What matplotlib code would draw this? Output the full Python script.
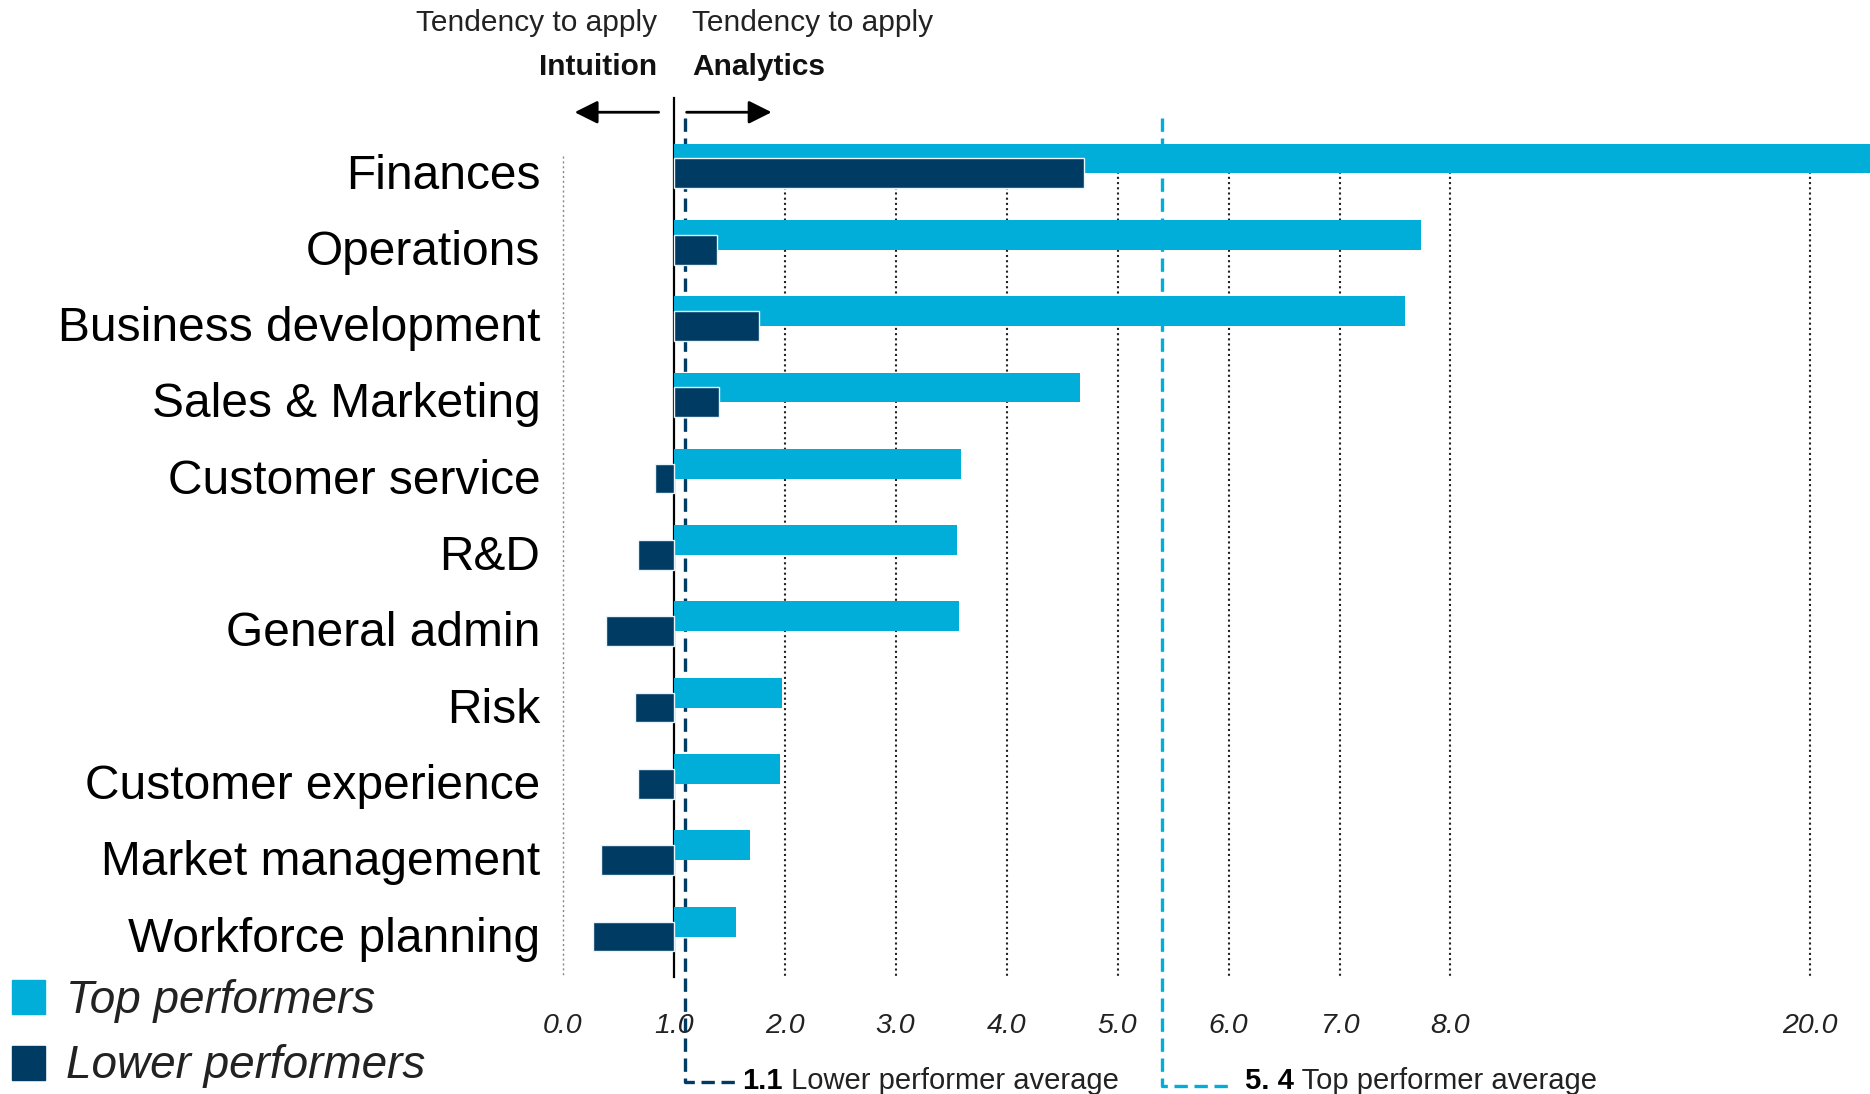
import numpy as np
import matplotlib
matplotlib.use("Agg")
import matplotlib.pyplot as plt
from matplotlib.patches import Rectangle

plt.rcParams['font.family'] = ['Liberation Sans', 'DejaVu Sans']

# ---------------- data ----------------
categories = ["Finances", "Operations", "Business development", "Sales & Marketing",
              "Customer service", "R&D", "General admin", "Risk",
              "Customer experience", "Market management", "Workforce planning"]
top_performers = [23.0, 7.73, 7.59, 4.66, 3.59, 3.55, 3.57, 1.98, 1.96, 1.69, 1.56]
lower_performers = [4.70, 1.39, 1.77, 1.41, 0.83, 0.68, 0.39, 0.65, 0.68, 0.35, 0.27]
tick_values = [0.0, 1.0, 2.0, 3.0, 4.0, 5.0, 6.0, 7.0, 8.0, 20.0]
tick_labels = ["0.0", "1.0", "2.0", "3.0", "4.0", "5.0", "6.0", "7.0", "8.0", "20.0"]
baseline = 1.0
lower_avg = 1.1
top_avg = 5.4
series_names = ["Top performers", "Lower performers"]

CYAN = "#00AED9"
NAVY = "#003B64"

# broken x scale: linear up to 8, compressed above
BREAK, FACTOR = 8.0, 0.27
def fwd(v):
    v = np.asarray(v, dtype=float)
    return np.where(v <= BREAK, v, BREAK + (v - BREAK) * FACTOR)
def inv(t):
    t = np.asarray(t, dtype=float)
    return np.where(t <= BREAK, t, BREAK + (t - BREAK) / FACTOR)

fig = plt.figure(figsize=(18.7, 10.94), dpi=100)
ax = fig.add_axes([546 / 1870, 0.10695, 1 - 546 / 1870, 0.8065])
ax.set_xscale('function', functions=(fwd, inv))
ax.set_xlim(-0.15, 22.0)
ax.set_ylim(10.56, -1.0)

rows = np.arange(len(categories))

# grid lines (dotted)
for v in tick_values:
    if v == baseline:
        continue
    if v == 0.0:
        ax.vlines(v, -0.2, 10.56, colors="#888888", lw=1.0, linestyles=(0, (1.5, 2)), zorder=0)
    else:
        ax.vlines(v, -0.2, 10.56, colors="#222222", lw=1.5, linestyles=(0, (1, 1.5)), zorder=0)

# baseline solid line
ax.plot([baseline, baseline], [-0.96, 10.56], color="black", lw=1.6, zorder=1, clip_on=False)

# average dashed L lines
ax.plot([lower_avg, lower_avg, 1.6], [-0.69, 11.94, 11.94], color=NAVY, lw=2.4,
        linestyle=(0, (4, 2)), zorder=1, clip_on=False)
ax.plot([top_avg, top_avg, 6.0], [-0.69, 11.99, 11.99], color=CYAN, lw=2.4,
        linestyle=(0, (4, 2)), zorder=1, clip_on=False)

# bars
top_w = [v - baseline for v in top_performers]
low_w = [v - baseline for v in lower_performers]
ax.barh(rows - 0.165, top_w, left=baseline, height=0.39, color=CYAN, zorder=2)
ax.barh(rows + 0.03, low_w, left=baseline, height=0.39, color=NAVY,
        edgecolor="#E8F4FA", linewidth=1.0, zorder=3)

# axes styling
for s in ax.spines.values():
    s.set_visible(False)
ax.set_yticks(rows)
ax.set_yticklabels(categories, fontsize=34.5, color="black")
ax.tick_params(axis='y', length=0, pad=4)
ax.set_xticks(tick_values)
ax.set_xticklabels(tick_labels, fontsize=20.5, style='italic', color="#222222")
ax.tick_params(axis='x', length=0, pad=26)
ax.xaxis.set_minor_locator(matplotlib.ticker.NullLocator())

# header
ax.text(0.847, -1.94, "Tendency to apply", ha='right', va='center', fontsize=21.5,
        color="#222222", clip_on=False)
ax.text(0.847, -1.36, "Intuition", ha='right', va='center', fontsize=21.5,
        fontweight='bold', color="#111111", clip_on=False)
ax.text(1.17, -1.94, "Tendency to apply", ha='left', va='center', fontsize=21.5,
        color="#222222", clip_on=False)
ax.text(1.17, -1.36, "Analytics", ha='left', va='center', fontsize=21.5,
        fontweight='bold', color="#111111", clip_on=False)
ax.annotate("", xy=(0.108, -0.77), xytext=(0.865, -0.77), annotation_clip=False,
            arrowprops=dict(arrowstyle='-|>,head_length=1.4,head_width=0.7',
                            color='black', lw=2, shrinkA=0, shrinkB=0))
ax.annotate("", xy=(1.883, -0.77), xytext=(1.117, -0.77), annotation_clip=False,
            arrowprops=dict(arrowstyle='-|>,head_length=1.4,head_width=0.7',
                            color='black', lw=2, shrinkA=0, shrinkB=0))

# average labels
t1 = ax.text(1.62, 11.92, f"{lower_avg:.1f}", ha='left', va='center', fontsize=21,
             fontweight='bold', color="black", clip_on=False)
ax.annotate(" Lower performer average", xy=(1, 0.5), xycoords=t1, ha='left', va='center',
            fontsize=21, color="#222222", annotation_clip=False)
t2 = ax.text(6.15, 11.92, "5. 4", ha='left', va='center', fontsize=21,
             fontweight='bold', color="black", clip_on=False)
ax.annotate(" Top performer average", xy=(1, 0.5), xycoords=t2, ha='left', va='center',
            fontsize=21, color="#222222", annotation_clip=False)

# legend (manual)
for name, col, yc, ty in zip(series_names, [CYAN, NAVY], [997, 1063], [1001, 1066]):
    fig.add_artist(Rectangle((12 / 1870, (1094 - yc - 17) / 1094), 33 / 1870, 34 / 1094,
                             transform=fig.transFigure, color=col))
    fig.text(66 / 1870, (1094 - ty) / 1094, name, ha='left', va='center', fontsize=33,
             style='italic', color="#222222")

fig.savefig("out.png", dpi=100)
